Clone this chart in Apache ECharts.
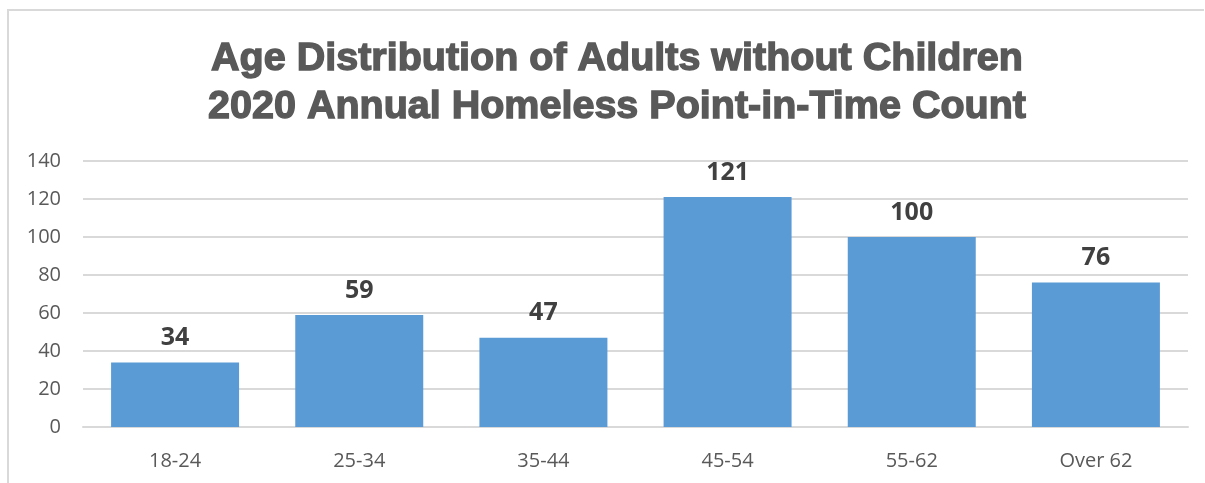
<!DOCTYPE html>
<html>
<head>
<meta charset="utf-8">
<script src="https://cdn.jsdelivr.net/npm/echarts@6/dist/echarts.min.js"></script>
<style>
html,body{margin:0;padding:0;background:#fff;}
#frame{position:absolute;left:7px;top:9px;width:1197px;height:490px;border-top:2px solid #d9d9d9;border-left:2px solid #d9d9d9;box-sizing:border-box;}
#chart{position:absolute;left:0;top:0;width:1205px;height:483px;}
</style>
</head>
<body>
<div id="frame"></div>
<div id="chart"></div>
<script>
const categories = ['18-24', '25-34', '35-44', '45-54', '55-62', 'Over 62'];
const counts = [34, 59, 47, 121, 100, 76];
const titleLines = ['Age Distribution of Adults without Children', '2020 Annual Homeless Point-in-Time Count'];

const chart = echarts.init(document.getElementById('chart'), null, {renderer: 'canvas'});
chart.setOption({
  animation: false,
  title: {
    text: titleLines.join('\n'),
    left: 612,
    textAlign: 'center',
    top: 30,
    textStyle: {
      fontFamily: '"Liberation Sans", Arial, sans-serif',
      fontWeight: 900,
      fontSize: 39.5,
      color: '#595959',
      lineHeight: 48,
      textBorderColor: '#595959',
      textBorderWidth: 1.4
    }
  },
  grid: {left: 83, right: 17, top: 161, bottom: 56, containLabel: false},
  xAxis: {
    type: 'category',
    data: categories,
    axisLine: {show: true, lineStyle: {color: '#d9d9d9', width: 2}},
    axisTick: {show: false},
    axisLabel: {color: '#595959', fontSize: 20, fontFamily: '"Open Sans", "Noto Sans", sans-serif', margin: 24}
  },
  yAxis: {
    type: 'value',
    min: 0, max: 140, interval: 20,
    axisLine: {show: false},
    axisTick: {show: false},
    splitLine: {lineStyle: {color: '#d9d9d9', width: 2}},
    axisLabel: {color: '#595959', fontSize: 20, fontFamily: '"Open Sans", "Noto Sans", sans-serif', margin: 22}
  },
  series: [{
    type: 'bar',
    data: counts,
    barWidth: '69.5%',
    itemStyle: {color: '#5b9bd5'},
    label: {
      show: true,
      position: 'top',
      distance: 12,
      color: '#404040',
      fontSize: 25,
      fontWeight: 'bold',
      fontFamily: '"Open Sans", "Noto Sans", sans-serif'
    }
  }]
});
</script>
</body>
</html>
